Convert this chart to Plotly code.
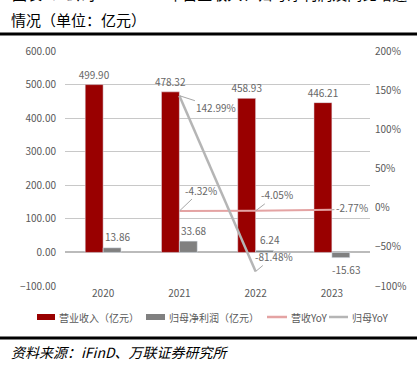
import plotly.graph_objects as go

years = ["2020", "2021", "2022", "2023"]
revenue = [499.90, 478.32, 458.93, 446.21]
net_profit = [13.86, 33.68, 6.24, -15.63]
rev_yoy = [None, -4.32, -4.05, -2.77]
np_yoy = [None, 142.99, -81.48, None]

legend_names = ["营业收入（亿元）", "归母净利润（亿元）", "营收YoY", "归母YoY"]
title_line1 = "图表1：公司2020-2023年营业收入、归母净利润及同比增速"
title_line2 = "情况（单位：亿元）"
source_text = "资料来源：iFinD、万联证券研究所"

RED = "#990000"
GRAY = "#808080"
PINK = "#e4a3a3"
LGRAY = "#b5b5b5"
TXT = "#595959"
LBL = "#666666"
FONT = "Noto Sans CJK SC"

W, H = 417, 365
L, R, T, B = 65, 47, 51, 79
PW, PH = W - L - R, H - T - B


def px(x):
    return (x - L) / PW


def py(y):
    return (H - B - y) / PH


fig = go.Figure()
fig.add_trace(go.Bar(x=years, y=revenue, name=legend_names[0], marker_color=RED,
                     text=[f"{v:.2f}" for v in revenue], textposition="outside",
                     constraintext="none",
                     textfont=dict(size=10, color=LBL, family=FONT), cliponaxis=False,
                     showlegend=False))
fig.add_trace(go.Bar(x=years, y=net_profit, name=legend_names[1], marker_color=GRAY,
                     showlegend=False))
fig.add_trace(go.Scatter(x=years, y=rev_yoy, name=legend_names[2], yaxis="y2", mode="lines",
                         line=dict(color=PINK, width=2), showlegend=False))
fig.add_trace(go.Scatter(x=years, y=np_yoy, name=legend_names[3], yaxis="y2", mode="lines",
                         line=dict(color=LGRAY, width=2.5), showlegend=False))

annos = []
# net profit labels, offset right of the gray bars like the reference
for i, v in enumerate(net_profit):
    annos.append(dict(x=i, y=v, xref="x", yref="y", text=f"{v:.2f}", showarrow=False,
                      xshift=14, yshift=11 if v >= 0 else -12,
                      font=dict(size=10, color=LBL, family=FONT)))

# YoY labels with leader lines (category axis -> use category index)
label_specs = [
    (1, np_yoy[1], 37, 12),
    (1, rev_yoy[1], 22, -21),
    (2, rev_yoy[2], 21, -16),
    (3, rev_yoy[3], 20, -2),
    (2, np_yoy[2], 18, -15),
]
for xi, yv, ax, ay in label_specs:
    annos.append(dict(x=xi, y=yv, xref="x", yref="y2", text=f"{yv:.2f}%",
                      showarrow=True, arrowhead=0, arrowwidth=1, arrowcolor="#a6a6a6",
                      ax=ax, ay=ay, font=dict(size=10, color=LBL, family=FONT)))

# titles and source
annos.append(dict(x=px(10), y=py(-6.5), xref="paper", yref="paper", text=title_line1,
                  showarrow=False, xanchor="left", yanchor="middle",
                  font=dict(size=15, color="black", family=FONT)))
annos.append(dict(x=px(9), y=py(19), xref="paper", yref="paper", text=title_line2,
                  showarrow=False, xanchor="left", yanchor="middle",
                  font=dict(size=15, color="black", family=FONT)))
annos.append(dict(x=px(9), y=py(352), xref="paper", yref="paper", text=source_text,
                  showarrow=False, xanchor="left", yanchor="middle",
                  font=dict(size=14, color="black", family=FONT, style="italic")))

shapes = [
    dict(type="line", xref="paper", yref="paper", x0=px(0), x1=px(W), y0=py(34), y1=py(34),
         line=dict(color="black", width=3)),
    dict(type="line", xref="paper", yref="paper", x0=px(0), x1=px(W), y0=py(338), y1=py(338),
         line=dict(color="black", width=3)),
]

# manual legend
LY = 317
leg = [
    ("rect", RED, 37, 55, 57, legend_names[0]),
    ("rect", GRAY, 146, 165, 167, legend_names[1]),
    ("line", PINK, 267, 287, 289, legend_names[2]),
    ("line", LGRAY, 329, 348, 350, legend_names[3]),
]
for kind, col, x0, x1, tx, name in leg:
    if kind == "rect":
        shapes.append(dict(type="rect", xref="paper", yref="paper", x0=px(x0), x1=px(x1),
                           y0=py(LY - 3), y1=py(LY + 3), fillcolor=col, line=dict(width=0)))
    else:
        shapes.append(dict(type="line", xref="paper", yref="paper", x0=px(x0), x1=px(x1),
                           y0=py(LY), y1=py(LY), line=dict(color=col, width=2.5)))
    annos.append(dict(x=px(tx), y=py(LY), xref="paper", yref="paper", text=name,
                      showarrow=False, xanchor="left", yanchor="middle",
                      font=dict(size=10, color=TXT, family=FONT)))

fig.update_layout(
    width=W, height=H, autosize=False,
    margin=dict(l=L, r=R, t=T, b=B),
    paper_bgcolor="white", plot_bgcolor="white",
    barmode="group", bargap=0.53, bargroupgap=0,
    font=dict(family=FONT, size=10, color=TXT),
    xaxis=dict(type="category", range=[-0.5, 3.5], showgrid=False, showline=False, ticks="",
               tickfont=dict(size=10, color=TXT, family=FONT)),
    yaxis=dict(range=[-100, 600], dtick=100, tickformat=".2f", showgrid=True,
               gridcolor="#c8c8c8", gridwidth=1.2, zeroline=True, zerolinecolor="#bbbbbb",
               zerolinewidth=1.5, showline=False, ticks="", ticklabelstandoff=8,
               tickfont=dict(size=10, color=TXT, family=FONT)),
    yaxis2=dict(range=[-100, 200], dtick=50, ticksuffix="%", overlaying="y", side="right",
                showgrid=False, zeroline=False, showline=False, ticks="",
                ticklabelstandoff=4,
                tickfont=dict(size=10, color=TXT, family=FONT)),
    annotations=annos, shapes=shapes,
)

fig.write_html("out.html", config={"displayModeBar": False},
               post_script="document.body.style.margin='0px';document.body.style.padding='0px';")
